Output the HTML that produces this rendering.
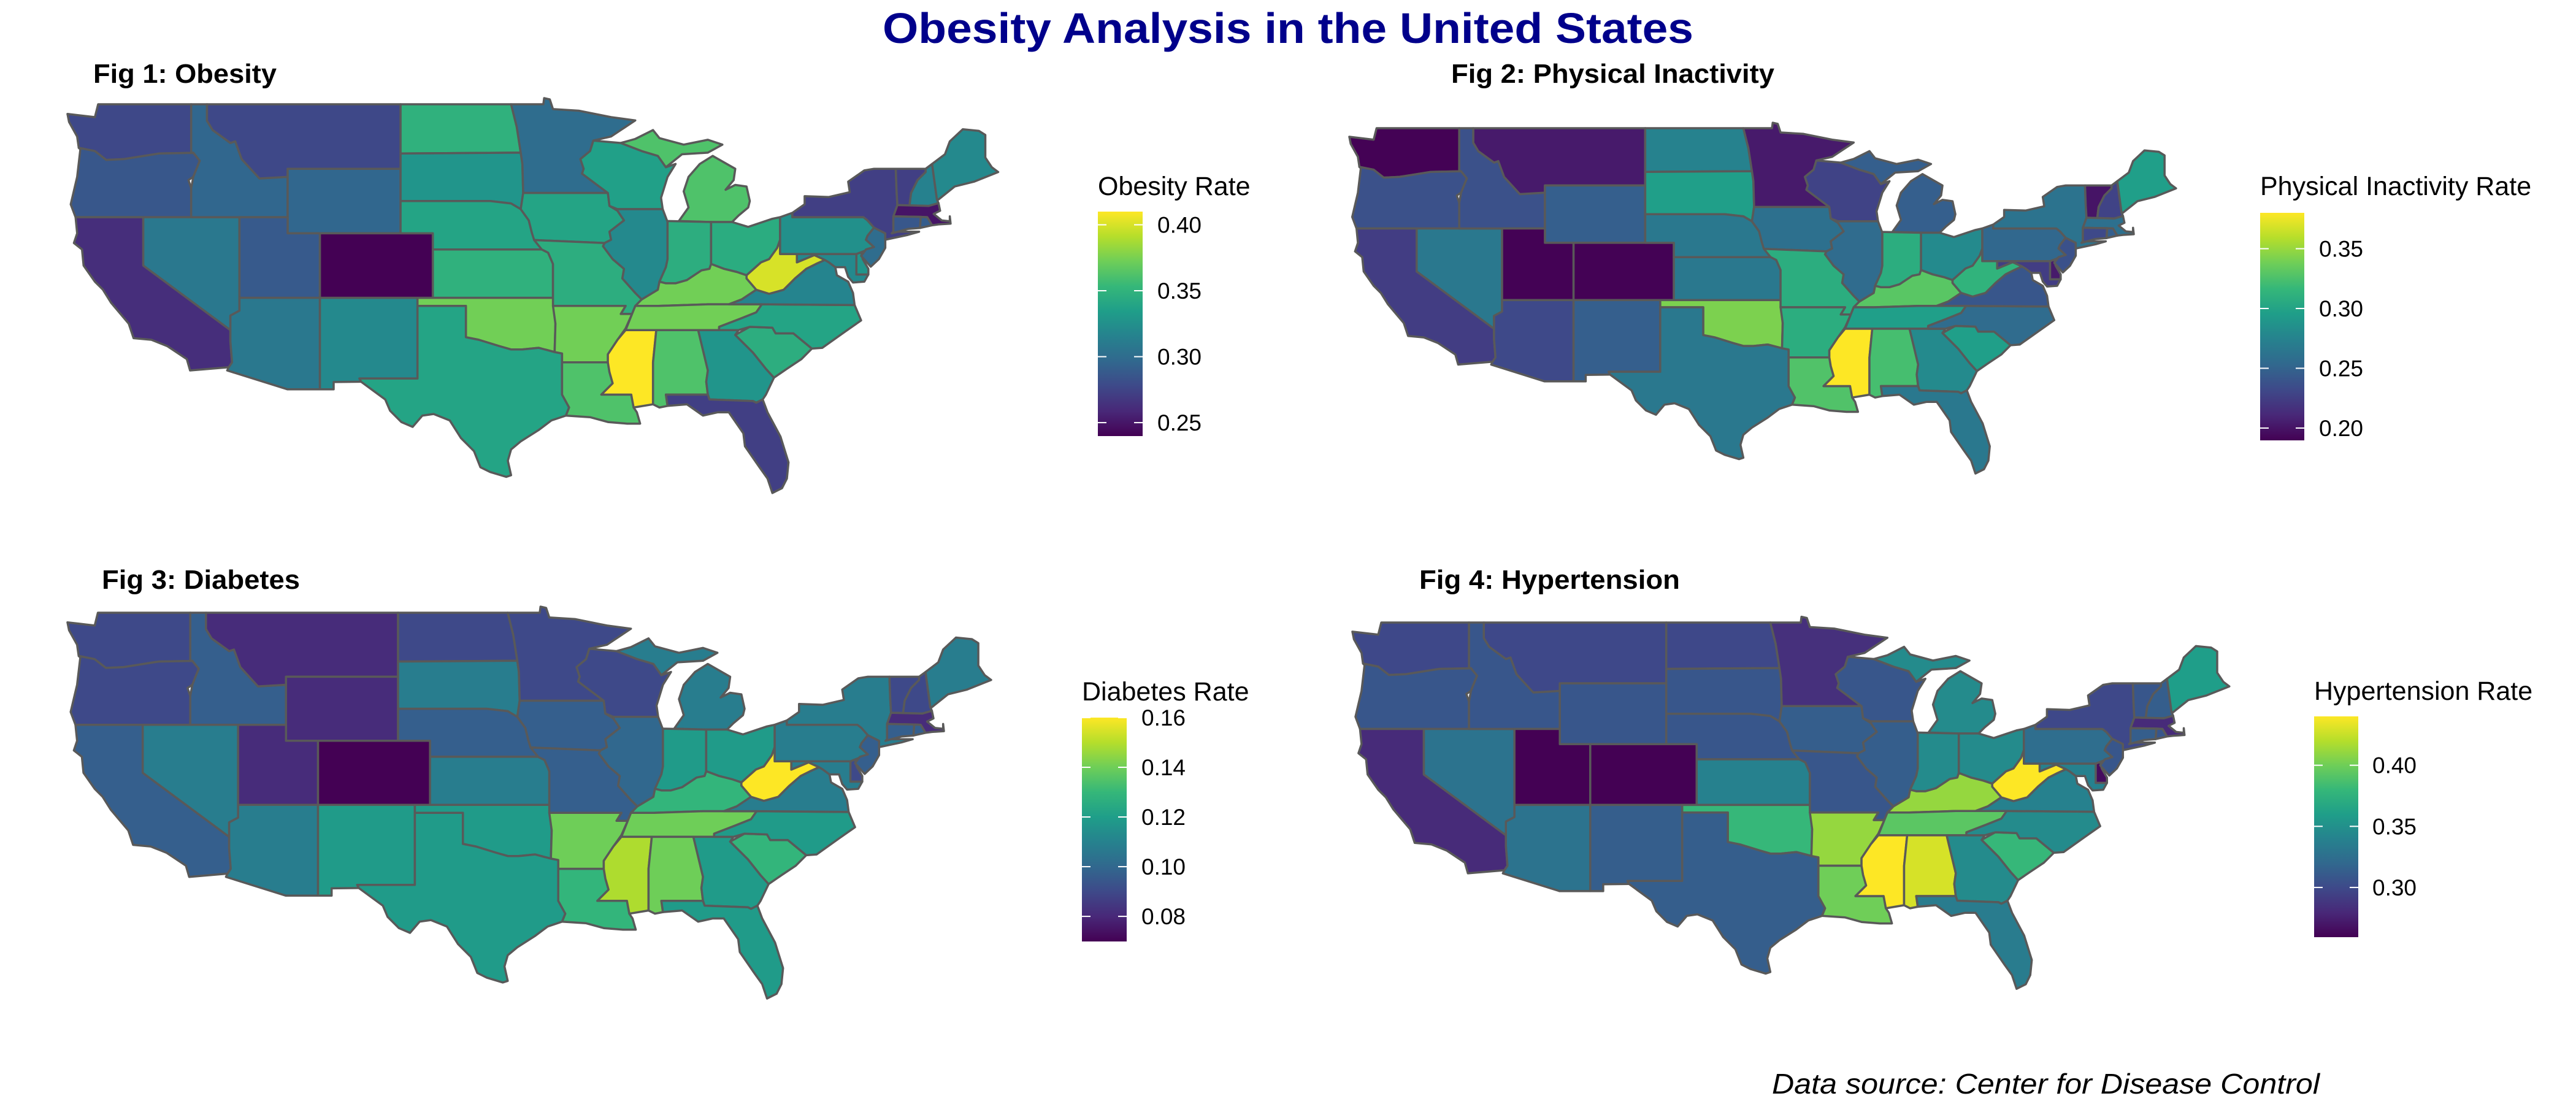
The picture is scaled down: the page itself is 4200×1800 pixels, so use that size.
<!DOCTYPE html>
<html>
<head>
<meta charset="utf-8">
<style>
  html,body{margin:0;padding:0;background:#fff;}
  svg{display:block;}
  text{font-family:"Liberation Sans",Arial,sans-serif;}
</style>
</head>
<body>
<svg id="chart" width="4200" height="1800" viewBox="0 0 4200 1800" xmlns="http://www.w3.org/2000/svg">
  <rect width="4200" height="1800" fill="#fff"/>
  <text x="2100" y="70" text-anchor="middle" font-size="70" font-weight="bold" fill="#00008B" textLength="1322" lengthAdjust="spacingAndGlyphs">Obesity Analysis in the United States</text>
  <text x="152" y="135" font-size="44" font-weight="bold" fill="#000" textLength="299" lengthAdjust="spacingAndGlyphs">Fig 1: Obesity</text>
  <text x="2366" y="135" font-size="44" font-weight="bold" fill="#000" textLength="527" lengthAdjust="spacingAndGlyphs">Fig 2: Physical Inactivity</text>
  <text x="166" y="960" font-size="44" font-weight="bold" fill="#000" textLength="323" lengthAdjust="spacingAndGlyphs">Fig 3: Diabetes</text>
  <text x="2314" y="960" font-size="44" font-weight="bold" fill="#000" textLength="425" lengthAdjust="spacingAndGlyphs">Fig 4: Hypertension</text>
  <text x="2889" y="1783" font-size="46" font-style="italic" fill="#000" textLength="893" lengthAdjust="spacingAndGlyphs">Data source: Center for Disease Control</text>
  <defs id="defs"></defs>
</svg>
<script>
// ---- chart data ----
const states = ["WA","OR","CA","NV","ID","MT","WY","UT","CO","AZ","NM","ND","SD","NE","KS","OK","TX","MN","IA","MO","AR","LA","WI","IL","MI","IN","OH","KY","TN","MS","AL","GA","FL","SC","NC","VA","WV","MD","DE","PA","NJ","NY","VT","NH","ME","MA","CT","RI"];
const obesityValues = [0.277,0.286,0.262,0.308,0.296,0.277,0.296,0.288,0.240,0.308,0.320,0.349,0.328,0.339,0.349,0.373,0.339,0.300,0.339,0.346,0.373,0.362,0.336,0.320,0.362,0.346,0.345,0.373,0.373,0.410,0.362,0.328,0.272,0.346,0.339,0.317,0.400,0.320,0.328,0.325,0.300,0.272,0.272,0.315,0.320,0.249,0.286,0.290];
const inactivityValues = [0.190,0.2375,0.224,0.266,0.2375,0.203,0.247,0.190,0.190,0.232,0.247,0.274,0.296,0.266,0.266,0.342,0.266,0.203,0.260,0.308,0.308,0.327,0.228,0.256,0.247,0.308,0.280,0.330,0.296,0.380,0.323,0.280,0.266,0.296,0.256,0.241,0.313,0.224,0.203,0.253,0.2375,0.262,0.200,0.228,0.296,0.260,0.232,0.247];
const diabetesValues = [0.090,0.090,0.097,0.108,0.097,0.081,0.081,0.081,0.070,0.108,0.119,0.090,0.108,0.097,0.108,0.119,0.119,0.090,0.097,0.097,0.140,0.129,0.090,0.100,0.108,0.119,0.119,0.129,0.140,0.149,0.140,0.119,0.119,0.129,0.119,0.108,0.160,0.108,0.090,0.108,0.097,0.108,0.090,0.090,0.108,0.081,0.097,0.097];
const hypertensionValues = [0.299,0.308,0.281,0.328,0.308,0.299,0.308,0.259,0.259,0.328,0.313,0.299,0.308,0.308,0.339,0.380,0.313,0.284,0.313,0.308,0.411,0.400,0.308,0.313,0.346,0.346,0.346,0.411,0.393,0.440,0.429,0.346,0.335,0.380,0.346,0.339,0.440,0.339,0.265,0.324,0.308,0.299,0.308,0.313,0.360,0.281,0.313,0.308];
const obesityTicks = [0.25,0.30,0.35,0.40];
const inactivityTicks = [0.20,0.25,0.30,0.35];
const diabetesTicks = [0.08,0.10,0.12,0.14,0.16];
const hypertensionTicks = [0.30,0.35,0.40];
const obesityDomain = [0.2398,0.410];
const inactivityDomain = [0.1897,0.380];
const diabetesDomain = [0.0699,0.160];
const hypertensionDomain = [0.2593,0.440];

// ---- geometry (lon/lat outlines) ----
const geo = {
WA:[[-124.7,48.4],[-123,48.2],[-122.8,49],[-117.03,49],[-117.03,46.0],[-116.9,45.99],[-119,45.95],[-121.2,45.6],[-122.3,45.55],[-123,46.1],[-124.0,46.3],[-124.1,47],[-124.6,47.9]],
OR:[[-124.0,46.3],[-123,46.1],[-122.3,45.55],[-121.2,45.6],[-119,45.95],[-116.9,45.99],[-116.5,45.5],[-116.9,44.5],[-117.2,44.3],[-117.03,43.8],[-117.03,42],[-124.2,42],[-124.5,42.8],[-124.1,44.5],[-123.9,46.2]],
CA:[[-124.2,42],[-120,42],[-120,39],[-114.6,35],[-114.6,34.3],[-114.5,33],[-114.7,32.7],[-117.1,32.5],[-117.3,33.2],[-118.5,34],[-119.5,34.4],[-120.6,34.5],[-120.9,35.4],[-122,36.7],[-122.5,37.5],[-123,38],[-123.7,39],[-123.8,40],[-124.3,40.4],[-124.1,41]],
NV:[[-120,42],[-114.04,42],[-114.04,36.2],[-114.6,35.9],[-114.6,35],[-120,39]],
ID:[[-117.03,49],[-116.05,49],[-116.05,47.98],[-115.7,47.4],[-114.6,46.6],[-114.3,46.7],[-113.9,45.6],[-112.8,44.4],[-111.05,44.5],[-111.05,42],[-117.03,42],[-117.03,43.8],[-116.9,44.5],[-116.5,45.5],[-116.9,46],[-117.03,46]],
MT:[[-116.05,49],[-104.05,49],[-104.05,45],[-111.05,45],[-111.05,44.5],[-112.8,44.4],[-113.9,45.6],[-114.3,46.7],[-114.6,46.6],[-115.7,47.4],[-116.05,47.98]],
WY:[[-111.05,45],[-104.05,45],[-104.05,41],[-111.05,41]],
UT:[[-114.04,42],[-111.05,42],[-111.05,41],[-109.05,41],[-109.05,37],[-114.04,37]],
CO:[[-109.05,41],[-102.05,41],[-102.05,37],[-109.05,37]],
AZ:[[-114.6,35],[-114.6,35.9],[-114.04,36.2],[-114.04,37],[-109.05,37],[-109.05,31.33],[-111.07,31.33],[-114.8,32.5],[-114.7,32.7],[-114.5,33],[-114.6,34.3]],
NM:[[-109.05,37],[-103,37],[-103,32],[-106.6,32],[-106.5,31.8],[-108.2,31.78],[-108.2,31.33],[-109.05,31.33]],
ND:[[-104.05,49],[-97.2,49],[-96.85,47.6],[-96.6,46.0],[-104.05,45.95]],
SD:[[-104.05,45.95],[-96.6,46.0],[-96.5,45.3],[-96.45,43.5],[-96.6,42.5],[-97.2,42.85],[-98.5,43],[-104.05,43]],
NE:[[-104.05,43],[-98.5,43],[-97.2,42.85],[-96.6,42.5],[-96.1,41.8],[-95.9,41],[-95.3,40],[-102.05,40],[-102.05,41],[-104.05,41]],
KS:[[-102.05,40],[-95.3,40],[-94.9,39.8],[-94.6,39.1],[-94.6,37],[-102.05,37]],
OK:[[-103,37],[-94.6,37],[-94.45,35.4],[-94.5,33.64],[-95.5,33.9],[-96.5,33.8],[-97.2,33.8],[-97.9,34],[-99.2,34.4],[-100,34.56],[-100,36.5],[-103,36.5]],
TX:[[-106.6,32],[-103,32],[-103,36.5],[-100,36.5],[-100,34.56],[-99.2,34.4],[-97.9,34],[-97.2,33.8],[-96.5,33.8],[-95.5,33.9],[-94.5,33.64],[-94.04,33.55],[-94.04,31],[-93.6,30.2],[-93.8,29.7],[-94.7,29.4],[-95.5,28.8],[-96.6,28.1],[-97.2,27.6],[-97.4,26.9],[-97.2,26],[-97.5,25.9],[-98.5,26.2],[-99.1,26.5],[-99.5,27.5],[-100.3,28.3],[-101,29.4],[-102,29.8],[-102.7,29.7],[-103.3,29],[-104,29.3],[-104.7,30],[-105,30.7],[-106.5,31.8]],
MN:[[-97.2,49],[-95.2,49],[-95.15,49.38],[-94.8,49.3],[-94.6,48.7],[-93,48.6],[-91,48.2],[-89.5,48],[-91,47],[-92.1,46.75],[-92.3,46.1],[-92.9,45.6],[-92.7,45],[-92.8,44.7],[-91.2,43.5],[-96.45,43.5],[-96.5,45.3],[-96.6,46],[-96.85,47.6]],
IA:[[-96.45,43.5],[-91.2,43.5],[-91.1,42.7],[-90.6,42.4],[-90.2,41.8],[-91.1,41.1],[-91.0,40.6],[-91.4,40.4],[-95.77,40.58],[-95.9,41],[-96.1,41.8],[-96.6,42.5]],
MO:[[-95.77,40.58],[-91.4,40.4],[-91.5,40.2],[-90.9,39.4],[-90.2,38.8],[-90.3,38.2],[-89.5,37.3],[-89.1,36.9],[-89.5,36.5],[-89.7,36],[-90.4,36],[-90.1,36.5],[-94.6,36.5],[-94.6,39.1],[-94.9,39.8],[-95.3,40]],
AR:[[-94.6,36.5],[-90.1,36.5],[-90.4,36],[-89.7,36],[-90.1,35.1],[-90.6,34.4],[-91.2,33.5],[-91.2,33],[-94.04,33],[-94.04,33.55],[-94.5,33.64],[-94.45,35.4]],
LA:[[-94.04,33],[-91.2,33],[-91.1,32.4],[-90.9,31.7],[-91.6,31],[-89.75,31],[-89.6,30.2],[-89.4,29.9],[-89.2,29.2],[-90,29.2],[-91.2,29.3],[-92.3,29.6],[-93.8,29.7],[-93.6,30.2],[-94.04,31]],
WI:[[-92.1,46.75],[-90.4,46.6],[-89.1,46.1],[-88.1,45.8],[-87.6,45.1],[-87.0,45.3],[-87.5,44.5],[-87.9,43.2],[-87.8,42.5],[-90.6,42.5],[-91.1,42.7],[-91.2,43.5],[-92.8,44.7],[-92.7,45],[-92.9,45.6],[-92.3,46.1]],
IL:[[-90.6,42.5],[-87.8,42.5],[-87.5,41.7],[-87.5,39.4],[-87.6,38.9],[-88.0,38],[-88.1,37.5],[-89.1,36.9],[-89.5,37.3],[-90.3,38.2],[-90.2,38.8],[-90.9,39.4],[-91.5,40.2],[-91.4,40.4],[-91.0,40.6],[-91.1,41.1],[-90.2,41.8],[-90.6,42.4]],
MI:[[-86.8,41.76],[-84.8,41.7],[-83.5,41.7],[-83.1,42.1],[-82.5,42.6],[-82.4,43],[-82.6,43.9],[-83.3,44],[-83.9,43.7],[-83.4,44.3],[-83.3,45],[-84.7,45.8],[-85.5,45.3],[-86.2,44.5],[-86.5,43.6],[-86.2,42.6]],
MIU:[[-90.4,46.6],[-89.1,46.1],[-88.1,45.8],[-87.6,45.1],[-86.6,45.9],[-85,46],[-84.1,46.5],[-85,46.8],[-86.5,46.5],[-88,46.9],[-88.4,47.4],[-89.5,46.85]],
IN:[[-87.5,41.76],[-84.8,41.7],[-84.8,39.1],[-84.9,38.8],[-85.4,38.7],[-86.3,38.1],[-87,37.9],[-87.6,37.9],[-88.0,38],[-87.6,38.9],[-87.5,39.4]],
OH:[[-84.8,41.7],[-83.5,41.7],[-82.5,41.4],[-81,41.9],[-80.52,42.0],[-80.52,40.6],[-80.7,40.1],[-81.2,39.4],[-81.7,39.2],[-82.6,38.4],[-83.2,38.6],[-84,38.8],[-84.8,39.1]],
KY:[[-84.8,39.1],[-84,38.8],[-83.2,38.6],[-82.6,38.4],[-82.6,38.2],[-82,37.5],[-82.9,36.9],[-83.7,36.6],[-85,36.6],[-88.05,36.5],[-89.5,36.5],[-89.1,36.9],[-88.1,37.5],[-88,38],[-87.6,37.9],[-87,37.9],[-86.3,38.1],[-85.4,38.7],[-84.9,38.8]],
TN:[[-90.1,35],[-89.7,36],[-89.5,36.5],[-88.05,36.5],[-85,36.6],[-83.7,36.6],[-81.65,36.6],[-82,36.1],[-83,35.7],[-84.3,35.2],[-84.3,35],[-88.2,35]],
MS:[[-91.2,33],[-91.2,33.5],[-90.6,34.4],[-90.1,35],[-88.2,35],[-88.4,33],[-88.4,30.4],[-89.6,30.2],[-89.75,31],[-91.6,31],[-90.9,31.7],[-91.1,32.4]],
AL:[[-88.2,35],[-85.6,35],[-85.0,32.5],[-85.1,31.8],[-85,31],[-87.6,31],[-87.5,30.3],[-88.0,30.2],[-88.4,30.4],[-88.4,33]],
GA:[[-85.6,35],[-83.1,35],[-83.3,34.7],[-82.2,33.6],[-81.4,32.6],[-80.9,32.05],[-81.4,31],[-81.6,30.7],[-82.0,30.5],[-82.2,30.6],[-84.9,30.7],[-85,31],[-85.1,31.8],[-85.0,32.5]],
FL:[[-87.6,31],[-85,31],[-84.9,30.7],[-82.2,30.6],[-82,30.5],[-81.6,30.7],[-81.3,29.9],[-80.5,28.4],[-80,26.8],[-80.1,25.8],[-80.4,25.2],[-81,24.9],[-81.3,25.8],[-81.8,26.5],[-82.7,27.8],[-82.8,28.6],[-83.7,29.9],[-84.4,29.9],[-85.3,29.7],[-86.3,30.4],[-87.5,30.3]],
SC:[[-83.3,34.7],[-82.4,35.2],[-81,35.15],[-80.8,34.8],[-79.7,34.8],[-78.55,33.85],[-79.2,33.2],[-80.1,32.6],[-80.9,32.05],[-81.4,32.6],[-82.2,33.6]],
NC:[[-84.3,35],[-84.3,35.2],[-83,35.7],[-82,36.1],[-81.65,36.6],[-75.9,36.55],[-75.5,35.6],[-76.5,34.9],[-77.9,33.9],[-78.55,33.85],[-79.7,34.8],[-80.8,34.8],[-81,35.15],[-82.4,35.2],[-83.1,35]],
VA:[[-83.7,36.6],[-81.65,36.6],[-75.9,36.55],[-76.0,37.3],[-76.3,38],[-77.0,38.4],[-77.1,38.9],[-77.5,39.2],[-77.75,39.35],[-78.3,39.1],[-78.9,38.8],[-79.6,38.2],[-80.3,37.5],[-81.2,37.25],[-82,37.5],[-82.9,36.9]],
WV:[[-82.6,38.2],[-82.6,38.4],[-81.7,39.2],[-81.2,39.4],[-80.7,40.1],[-80.52,40.6],[-80.52,39.72],[-79.48,39.72],[-79.48,39.2],[-78.4,39.65],[-77.75,39.35],[-78.3,39.1],[-78.9,38.8],[-79.6,38.2],[-80.3,37.5],[-81.2,37.25],[-82,37.5]],
MD:[[-79.48,39.72],[-75.79,39.72],[-75.79,38.45],[-75.05,38.45],[-75.3,38],[-76.0,37.95],[-76.3,38.3],[-76.5,38.9],[-77.1,38.9],[-77.5,39.2],[-77.75,39.35],[-78.4,39.65],[-79.48,39.2]],
DE:[[-75.79,39.72],[-75.5,39.83],[-75.4,39.4],[-75.05,38.8],[-75.05,38.45],[-75.79,38.45]],
PA:[[-80.52,42.0],[-79.76,42.27],[-79.76,42],[-75.35,42],[-75.1,41.8],[-74.7,41.35],[-75.1,40.85],[-75.2,40.6],[-74.7,40.15],[-75.5,39.83],[-75.79,39.72],[-80.52,39.72]],
NJ:[[-74.7,41.35],[-74.0,41.0],[-74.0,40.6],[-74.0,40.1],[-74.4,39.4],[-74.9,38.93],[-75.5,39.6],[-75.2,40],[-74.7,40.15],[-75.2,40.6],[-75.1,40.85]],
NY:[[-79.76,42],[-79.76,42.27],[-79.0,42.8],[-79.0,43.3],[-77.5,43.25],[-76.2,43.55],[-76.3,44.2],[-75.3,44.9],[-74.7,45],[-73.35,45],[-73.3,43.6],[-73.25,42.75],[-73.5,42.05],[-73.5,41.1],[-71.9,41.1],[-72.6,40.9],[-74.0,40.6],[-74.0,41.0],[-74.7,41.35],[-75.1,41.8],[-75.35,42]],
VT:[[-73.35,45],[-71.5,45],[-71.5,44.8],[-72.0,44.3],[-72.4,43.5],[-72.5,42.73],[-73.25,42.75],[-73.3,43.6]],
NH:[[-71.5,45],[-71.1,45.3],[-70.8,43.1],[-70.7,42.87],[-71.3,42.7],[-72.5,42.73],[-72.4,43.5],[-72,44.3],[-71.5,44.8]],
ME:[[-71.1,45.3],[-70.3,45.9],[-70,46.7],[-69.2,47.45],[-68.2,47.35],[-67.8,47.1],[-67.8,45.7],[-67.4,45.1],[-67,44.8],[-68.5,44.2],[-69.7,43.9],[-70.7,43.1],[-70.8,43.1]],
MA:[[-73.5,42.05],[-73.25,42.75],[-72.5,42.73],[-71.3,42.7],[-70.7,42.87],[-70.6,42.4],[-71,42.2],[-70.5,41.8],[-70,41.75],[-70,42.05],[-69.95,41.6],[-70.7,41.55],[-71.1,41.5],[-71.4,42.0],[-71.8,42.02]],
CT:[[-73.5,42.05],[-71.8,42.02],[-71.85,41.33],[-72.6,41.27],[-73.6,41.0],[-73.5,41.1]],
RI:[[-71.8,42.02],[-71.4,42.0],[-71.1,41.5],[-71.85,41.33]]
};

const viridisStops = ["#440154","#482878","#3e4989","#31688e","#26828e","#1f9e89","#35b779","#6ece58","#b5de2b","#fde725"];
function hex2rgb(h){return [parseInt(h.substr(1,2),16),parseInt(h.substr(3,2),16),parseInt(h.substr(5,2),16)];}
function viridis(t){
  t=Math.max(0,Math.min(1,t));
  const n=viridisStops.length-1, f=t*n, i=Math.min(n-1,Math.floor(f)), u=f-i;
  const a=hex2rgb(viridisStops[i]), b=hex2rgb(viridisStops[i+1]);
  return "rgb("+a.map((v,k)=>Math.round(v+(b[k]-v)*u)).join(",")+")";
}

const svg=document.getElementById('chart');
const NS="http://www.w3.org/2000/svg";
function mk(tag,attrs){const e=document.createElementNS(NS,tag);for(const k in attrs)e.setAttribute(k,attrs[k]);return e;}

function drawMap(cfg){
  const g=mk('g',{});
  
  
  svg.appendChild(g);
  const xScale=lon=>cfg.x0+(lon+124.7)*cfg.s;
  const yScale=lat=>cfg.y0+(49-lat)*cfg.s;
  const colorScale=v=>viridis((v-cfg.domain[0])/(cfg.domain[1]-cfg.domain[0]));
  states.forEach((st,i)=>{
    const parts = st==="MI" ? [geo.MI,geo.MIU] : [geo[st]];
    const d=parts.map(poly=>"M"+poly.map(p=>xScale(p[0]).toFixed(1)+","+yScale(p[1]).toFixed(1)).join("L")+"Z").join("");
    const p=mk('path',{d:d,fill:colorScale(cfg.values[i]),stroke:"#595959","stroke-width":3.5,"stroke-linejoin":"round"});
    
    
    g.appendChild(p);
  });
  const L=cfg.legend;
  const gid="grad-"+cfg.name;
  const grad=mk('linearGradient',{id:gid,x1:0,y1:1,x2:0,y2:0});
  viridisStops.forEach((c,k)=>grad.appendChild(mk('stop',{offset:(k/(viridisStops.length-1)),"stop-color":c})));
  document.getElementById('defs').appendChild(grad);
  const lg=mk('g',{});
  
  
  svg.appendChild(lg);
  const t=mk('text',{x:L.x,y:L.titleY,"font-size":43,fill:"#000"});
  t.textContent=L.title;
  
  
  lg.appendChild(t);
  const bar=mk('rect',{x:L.x,y:L.y0,width:L.w,height:L.y1-L.y0,fill:"url(#"+gid+")"});
  
  
  lg.appendChild(bar);
  const vy=v=>L.y1-(v-cfg.domain[0])/(cfg.domain[1]-cfg.domain[0])*(L.y1-L.y0);
  cfg.ticks.forEach(v=>{
    const y=vy(v);
    lg.appendChild(mk('line',{x1:L.x,x2:L.x+14,y1:y,y2:y,stroke:"#fff","stroke-width":2}));
    lg.appendChild(mk('line',{x1:L.x+L.w-14,x2:L.x+L.w,y1:y,y2:y,stroke:"#fff","stroke-width":2}));
    const tx=mk('text',{x:L.labelX,y:y+13,"font-size":37,fill:"#000"});
    tx.textContent=v.toFixed(2);
    
    
    lg.appendChild(tx);
  });
}

drawMap({name:"obesity",values:obesityValues,domain:obesityDomain,ticks:obesityTicks,x0:110,y0:170,s:26.3,
  legend:{title:"Obesity Rate",x:1790,w:73,y0:345,y1:711,titleY:318,labelX:1887}});
drawMap({name:"inactivity",values:inactivityValues,domain:inactivityDomain,ticks:inactivityTicks,x0:2200,y0:209,s:23.36,
  legend:{title:"Physical Inactivity Rate",x:3685,w:72,y0:347,y1:718,titleY:318,labelX:3781}});
drawMap({name:"diabetes",values:diabetesValues,domain:diabetesDomain,ticks:diabetesTicks,x0:110,y0:999,s:26.1,
  legend:{title:"Diabetes Rate",x:1764,w:73,y0:1170,y1:1535,titleY:1142,labelX:1861}});
drawMap({name:"hypertension",values:hypertensionValues,domain:hypertensionDomain,ticks:hypertensionTicks,x0:2205,y0:1015,s:24.78,
  legend:{title:"Hypertension Rate",x:3773,w:72,y0:1168,y1:1528,titleY:1141,labelX:3868}});
</script>
</body>
</html>
